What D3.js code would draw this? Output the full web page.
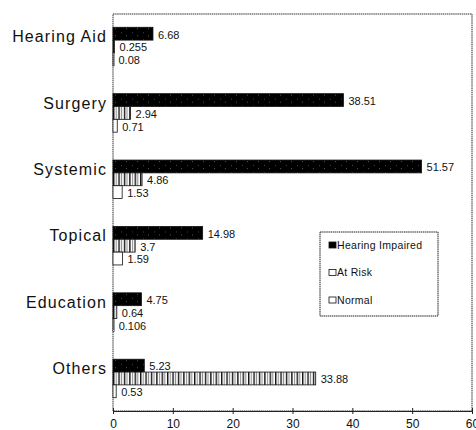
<!DOCTYPE html>
<html>
<head>
<meta charset="utf-8">
<script src="https://cdn.jsdelivr.net/npm/d3@7"></script>
<style>
  body { margin: 0; background: #fff; }
  text { font-family: "Liberation Sans", Arial, sans-serif; fill: #111; }
</style>
</head>
<body>
<svg id="chart" width="476" height="430"></svg>
<script>
const categories = ["Hearing Aid", "Surgery", "Systemic", "Topical", "Education", "Others"];
const series = ["Hearing Impaired", "At Risk", "Normal"];
const hearingImpaired = [6.68, 38.51, 51.57, 14.98, 4.75, 5.23];
const atRisk = [0.255, 2.94, 4.86, 3.7, 0.64, 33.88];
const normal = [0.08, 0.71, 1.53, 1.59, 0.106, 0.53];
const xTicks = [0, 10, 20, 30, 40, 50, 60];

const svg = d3.select("#chart");
const margin = { top: 14, right: 4, bottom: 19, left: 113 };
const width = 476 - margin.left - margin.right,
  height = 430 - margin.top - margin.bottom;

// patterns
const defs = svg.append("defs");
const dark = defs.append("pattern").attr("id", "dark")
  .attr("width", 11).attr("height", 7).attr("patternUnits", "userSpaceOnUse");
dark.append("rect").attr("width", 11).attr("height", 7).attr("fill", "#000");
dark.append("rect").attr("x", 2).attr("y", 1).attr("width", 1).attr("height", 1).attr("fill", "#555");
dark.append("rect").attr("x", 8).attr("y", 5).attr("width", 1).attr("height", 1).attr("fill", "#444");

const stripe = defs.append("pattern").attr("id", "stripe")
  .attr("width", 5.4).attr("height", 4).attr("patternUnits", "userSpaceOnUse");
stripe.append("rect").attr("width", 5.4).attr("height", 4).attr("fill", "#fff");
stripe.append("rect").attr("x", 0).attr("width", 1.4).attr("height", 4).attr("fill", "#111");
stripe.append("rect").attr("x", 3).attr("width", 0.7).attr("height", 4).attr("fill", "#555");

const fills = ["url(#dark)", "url(#stripe)", "#fff"];
const values = [hearingImpaired, atRisk, normal];

const g = svg.append("g").attr("transform", `translate(${margin.left},${margin.top})`);

const x = d3.scaleLinear().domain([0, 60]).range([0, width]);
const y = d3.scaleBand().domain(categories).range([0, height])
  .paddingInner(0.42).paddingOuter(0.2);
const ys = d3.scaleBand().domain(series).range([0, y.bandwidth()]);

// frame
g.append("rect").attr("width", width).attr("height", height)
  .attr("fill", "none").attr("stroke", "#333").attr("stroke-width", 1)
  .attr("stroke-dasharray", "1.5,0.6");

const rows = categories.map((c, i) => series.map((s, j) => ({ c, s, j, v: values[j][i] })));

const grp = g.selectAll(".grp").data(rows).join("g")
  .attr("transform", (d) => `translate(0,${y(d[0].c)})`);

grp.selectAll("rect").data((d) => d).join("rect")
  .attr("x", 0)
  .attr("y", (d) => ys(d.s))
  .attr("width", (d) => Math.max(1, x(d.v)))
  .attr("height", ys.bandwidth())
  .attr("fill", (d) => fills[d.j])
  .attr("stroke", "#111")
  .attr("stroke-width", 0.8);

grp.selectAll("text.val").data((d) => d).join("text")
  .attr("class", "val")
  .attr("x", (d) => x(d.v) + 5)
  .attr("y", (d) => ys(d.s) + ys.bandwidth() / 2 + 1)
  .attr("dy", "0.35em")
  .attr("font-size", 11)
  .text((d) => String(d.v));

// category labels
g.selectAll("text.cat").data(categories).join("text")
  .attr("class", "cat")
  .attr("x", -6)
  .attr("y", (d) => y(d) + ys.bandwidth() * 0.72)
  .attr("dy", "0.35em")
  .attr("text-anchor", "end")
  .attr("font-size", 16)
  .attr("letter-spacing", 1.1)
  .text((d) => d);

// x axis
const ax = g.append("g").attr("transform", `translate(0,${height})`)
  .call(d3.axisBottom(x).tickValues(xTicks).tickSize(3).tickPadding(5).tickFormat(d3.format("d")));
ax.select(".domain").attr("stroke", "#222");
ax.selectAll(".tick line").attr("y1", -3).attr("stroke", "#222");
ax.selectAll(".tick text").attr("font-size", 12).attr("font-family", "Liberation Sans, Arial, sans-serif");

// legend
const lg = g.append("g").attr("transform", `translate(${320 - margin.left},${232 - margin.top})`);
lg.append("rect").attr("width", 118).attr("height", 84)
  .attr("fill", "#fff").attr("stroke", "#222").attr("stroke-width", 1)
  .attr("stroke-dasharray", "1.5,0.6");
const li = lg.selectAll(".li").data(series).join("g")
  .attr("transform", (d, i) => `translate(9,${13 + i * 27.5})`);
li.append("rect").attr("width", 7).attr("height", 6).attr("y", -3)
  .attr("fill", (d, i) => (i === 0 ? "#000" : "#fff"))
  .attr("stroke", "#111").attr("stroke-width", 0.8);
li.append("text").attr("x", 8).attr("dy", "0.35em").attr("font-size", 10.5)
  .attr("letter-spacing", 0.3)
  .text((d) => d);
</script>
</body>
</html>
